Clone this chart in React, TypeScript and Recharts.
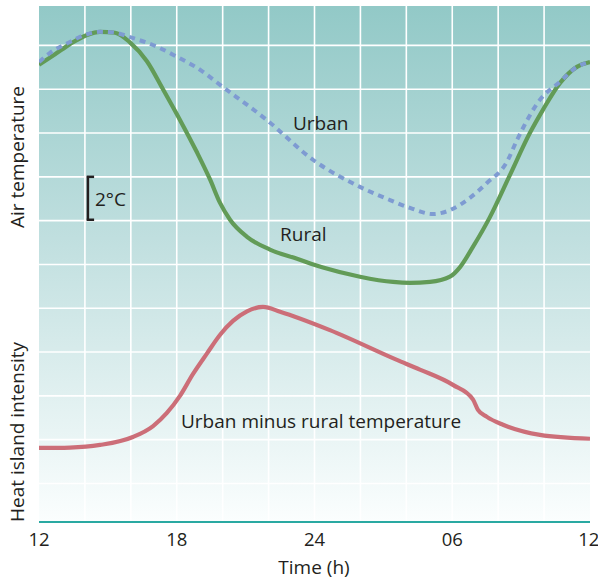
import React from 'react';
import { LineChart, Line, XAxis, YAxis, CartesianGrid, ReferenceLine } from 'recharts';

// hours since 12:00 (0..24); y in grid units (one grid step = 2°C)
const ruralHours = [0, 0.7, 1.35, 2.09, 2.66, 3.31, 3.96, 4.7, 5.4, 6.14, 6.88, 7.45, 7.88, 8.32, 9.06, 10.06, 11.24, 12.37, 13.98, 15.42, 16.16, 17.03, 17.9, 18.34, 18.9, 19.64, 20.51, 21.38, 21.95, 22.69, 23.43, 24];
const ruralTemp = [9.56, 9.8, 10.03, 10.24, 10.31, 10.29, 10.07, 9.64, 9.0, 8.3, 7.56, 6.94, 6.41, 6.02, 5.63, 5.34, 5.13, 4.93, 4.72, 4.6, 4.58, 4.6, 4.72, 4.94, 5.4, 6.08, 7.04, 8.0, 8.53, 9.14, 9.51, 9.62];

const urbanHours = [0, 0.48, 1.35, 2.0, 2.66, 3.31, 3.96, 5.14, 6.01, 6.88, 8.01, 9.94, 11.93, 13.98, 15.29, 16.16, 17.16, 17.9, 18.77, 19.51, 20.38, 20.82, 21.82, 22.69, 23.43, 24];
const urbanTemp = [9.62, 9.83, 10.08, 10.24, 10.31, 10.29, 10.19, 9.97, 9.74, 9.49, 9.05, 8.29, 7.39, 6.77, 6.47, 6.29, 6.15, 6.24, 6.52, 6.86, 7.34, 7.84, 8.76, 9.17, 9.51, 9.62];

const islandHours = [0, 1.35, 2.66, 4.09, 4.97, 5.57, 6.14, 6.71, 7.32, 7.88, 8.45, 9.06, 9.76, 10.5, 12.67, 15.59, 16.59, 18.03, 18.9, 19.12, 19.51, 20.21, 21.82, 24];
const islandDiff = [0.81, 0.82, 0.88, 1.06, 1.31, 1.61, 2.0, 2.5, 2.97, 3.39, 3.71, 3.93, 4.03, 3.92, 3.5, 2.82, 2.6, 2.25, 1.92, 1.68, 1.52, 1.34, 1.11, 1.02];

const xTicks = [0, 6, 12, 18, 24];
const xTickLabels = ['12', '18', '24', '06', '12'];
const gridX = [2, 4, 6, 8, 10, 12, 14, 16, 18, 20, 22];
const gridY = [0, 1, 2, 3, 4, 5, 6, 7, 8, 9, 10];

const rural = ruralHours.map((h, i) => ({ h, v: ruralTemp[i] }));
const urban = urbanHours.map((h, i) => ({ h, v: urbanTemp[i] }));
const island = islandHours.map((h, i) => ({ h, v: islandDiff[i] }));

const FONT = '"Open Sans", sans-serif';
const TXT = '#231f20';

export default function App() {
  return (
    <div style={{ position: 'absolute', left: 0, top: 0, width: 598, height: 581, background: '#fff' }}>
      <LineChart width={598} height={581} margin={{ top: 6, right: 8, bottom: 0, left: 39 }}>
        <defs>
          <linearGradient id="bg" x1="0" y1="0" x2="0" y2="1">
            <stop offset="0%" stopColor="#92c9c7" />
            <stop offset="45%" stopColor="#c0dfdf" />
            <stop offset="100%" stopColor="#fbfefe" />
          </linearGradient>
        </defs>
        <CartesianGrid
          fill="url(#bg)"
          stroke="#ffffff"
          strokeWidth={1.6}
          verticalValues={gridX}
          horizontalValues={gridY}
        />
        <XAxis
          type="number"
          dataKey="h"
          domain={[0, 24]}
          ticks={xTicks}
          tickFormatter={(v: number) => xTickLabels[xTicks.indexOf(v)]}
          tickLine={false}
          axisLine={{ stroke: '#2aa9a2', strokeWidth: 2 }}
          tick={{ fill: TXT, fontSize: 18.5, fontFamily: FONT }}
          tickMargin={5}
          height={59}
          allowDataOverflow
        />
        <YAxis
          type="number"
          domain={[-0.88, 10.9]}
          ticks={gridY}
          width={0}
          tick={{ fill: 'transparent', fontSize: 1 }}
          tickLine={false}
          axisLine={{ stroke: '#2aa9a2', strokeWidth: 2 }}
          allowDataOverflow
        />
        <Line data={island} dataKey="v" type="monotone" stroke="#cc6e78" strokeWidth={4.2} dot={false} isAnimationActive={false} />
        <Line data={rural} dataKey="v" type="monotone" stroke="#629b57" strokeWidth={4.2} dot={false} isAnimationActive={false} />
        <Line data={urban} dataKey="v" type="monotone" stroke="#7e9bd2" strokeWidth={4} strokeDasharray="6 5" dot={false} isAnimationActive={false} />
        <ReferenceLine segment={[{ x: 2.13, y: 7.02 }, { x: 2.13, y: 6.0 }]} stroke={TXT} strokeWidth={2.5} />
        <ReferenceLine segment={[{ x: 2.08, y: 7.0 }, { x: 2.4, y: 7.0 }]} stroke={TXT} strokeWidth={2.5} />
        <ReferenceLine segment={[{ x: 2.08, y: 6.02 }, { x: 2.4, y: 6.02 }]} stroke={TXT} strokeWidth={2.5} />
      </LineChart>
      <svg width={598} height={581} style={{ position: 'absolute', left: 0, top: 0, pointerEvents: 'none' }}>
        <g fontFamily={FONT} fill={TXT}>
          <text x={95} y={206} fontSize={19}>2°C</text>
          <text x={293} y={130} fontSize={19}>Urban</text>
          <text x={280} y={241} fontSize={19}>Rural</text>
          <text x={181} y={428} fontSize={19}>Urban minus rural temperature</text>
          <text x={314} y={574} fontSize={19} textAnchor="middle">Time (h)</text>
          <text x={0} y={0} fontSize={19} textAnchor="middle" transform="translate(24,157) rotate(-90)">Air temperature</text>
          <text x={0} y={0} fontSize={19} textAnchor="middle" transform="translate(24,432) rotate(-90)">Heat island intensity</text>
        </g>
      </svg>
    </div>
  );
}
